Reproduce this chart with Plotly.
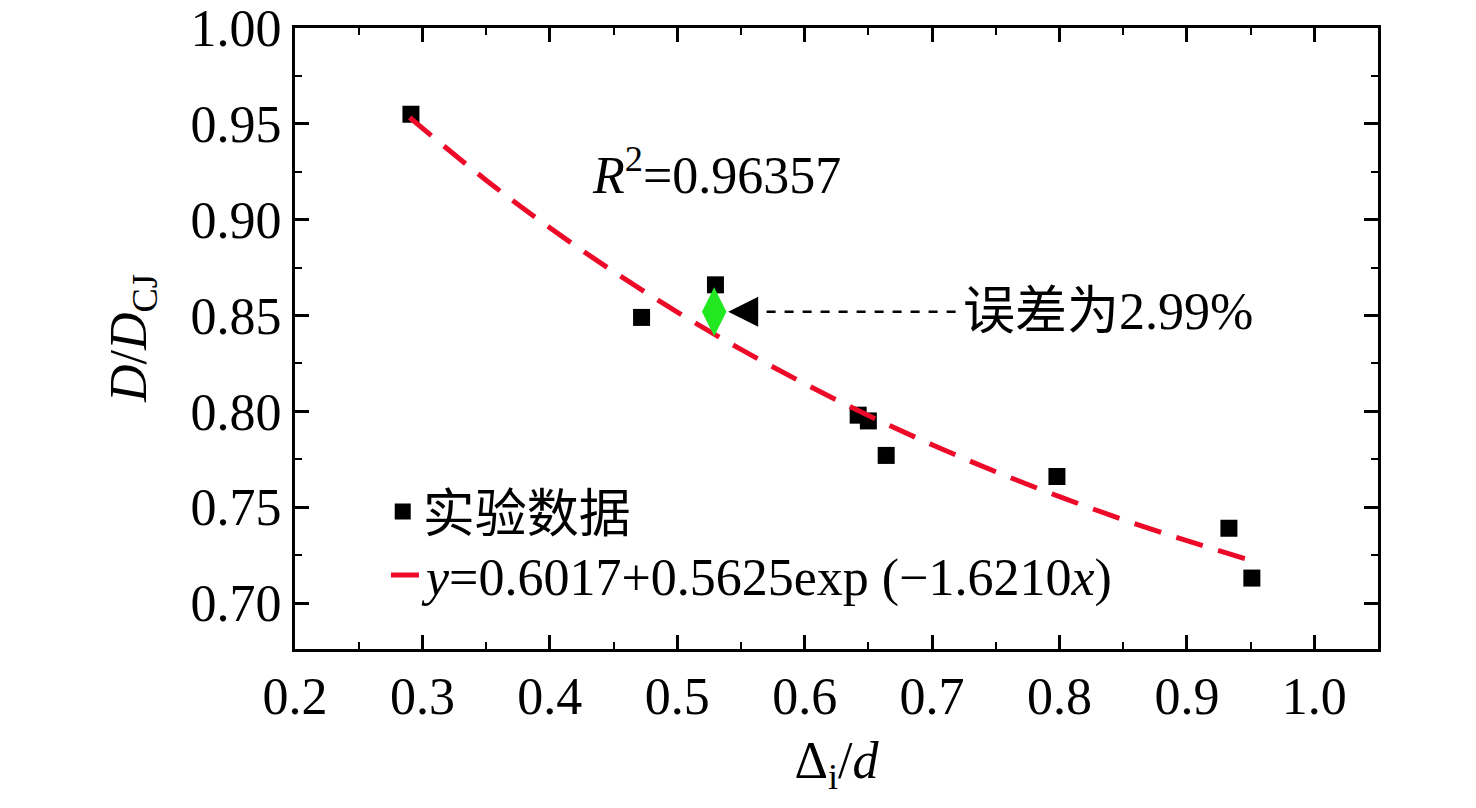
from plotly import graph_objects as go

exp_x = [0.291, 0.472, 0.530, 0.642, 0.650, 0.664, 0.798, 0.933, 0.951]
exp_y = [0.955, 0.849, 0.866, 0.798, 0.795, 0.777, 0.766, 0.739, 0.713]

# fitted curve
fit_x = [0.29, 0.35, 0.40, 0.45, 0.50, 0.55, 0.60, 0.65, 0.70, 0.75, 0.80, 0.85, 0.90, 0.95]
fit_y = [0.9533, 0.9206, 0.8958, 0.8729, 0.8518, 0.8323, 0.8144, 0.7978, 0.7826,
         0.7685, 0.7555, 0.7435, 0.7325, 0.7223]

# predicted point (green diamond)
pred_x = [0.529]
pred_y = [0.852]

# annotation positions
r2_pos = (0.531, 0.925)
err_text_x = 0.723
arrow_tip_x = 0.540
arrow_tail_x = 0.556

SERIF = "Liberation Serif, Times New Roman, Noto Sans CJK SC"
FS = 52

################################## TRACES ##################################
traces = list()
traces.append(go.Scatter(
    x=exp_x, y=exp_y, mode="markers", name="实验数据", legend="legend",
    marker=dict(symbol="square", size=17, color="black"),
))
traces.append(go.Scatter(
    x=fit_x, y=fit_y, mode="lines", legend="legend2",
    name="<i>y</i>=0.6017+0.5625exp (\u22121.6210<i>x</i>)",
    line=dict(color="#ec0a28", width=5, dash="28px,16px", shape="spline"),
))
traces.append(go.Scatter(
    x=pred_x, y=pred_y, mode="markers", showlegend=False,
    marker=dict(symbol="diamond-tall", size=35, color="#22e822", line=dict(width=0)),
))

################################## FIGURE ##################################
axis_common = dict(
    showline=True, linewidth=3, linecolor="black", mirror="ticks",
    ticks="inside", ticklen=14, tickwidth=2.5, tickcolor="black",
    showgrid=False, zeroline=False, ticklabeloverflow="allow",
    tickfont=dict(family=SERIF, size=FS, color="black"),
)
legend_common = dict(
    xanchor="left", yanchor="middle", bgcolor="rgba(0,0,0,0)",
    font=dict(family=SERIF, size=FS),
)

# page body adds an 8px margin, so the figure is a bit smaller than the window
figure = go.Figure(data=traces, layout=go.Layout(
    width=1460, height=792,
    paper_bgcolor="white", plot_bgcolor="white",
    margin=dict(l=287, r=90, t=20, b=151, autoexpand=False),
    font=dict(family=SERIF, size=FS, color="black"),
    xaxis=dict(
        range=[0.2, 1.05], dtick=0.1, tick0=0.2, tickformat=".1f",
        minor=dict(dtick=0.05, ticks="inside", ticklen=7, tickwidth=2, tickcolor="black"),
        title=dict(text="\u0394<sub>i</sub>/<i>d</i>", standoff=18,
                   font=dict(family=SERIF, size=FS)),
        **axis_common,
    ),
    yaxis=dict(
        range=[0.676, 1.0], dtick=0.05, tick0=0.7, tickformat=".2f",
        minor=dict(dtick=0.025, ticks="inside", ticklen=7, tickwidth=2, tickcolor="black"),
        **axis_common,
    ),
    legend=dict(x=0.081, y=0.221, **legend_common),
    legend2=dict(x=0.084, y=0.119, **legend_common),
    showlegend=True,
))

################################### OTHER ##################################
# y axis title
figure.add_annotation(
    x=-0.150, y=0.5, xref="paper", yref="paper", textangle=-90,
    xanchor="center", yanchor="middle",
    text="<i>D</i>/<i>D</i><sub>CJ</sub>", showarrow=False,
    font=dict(family=SERIF, size=FS),
)
figure.add_annotation(
    x=r2_pos[0], y=r2_pos[1], text="<i>R</i><sup>2</sup>=0.96357",
    showarrow=False, font=dict(family=SERIF, size=FS),
)
figure.add_annotation(
    x=err_text_x, y=pred_y[0], xanchor="left", showarrow=False,
    text="误差为<span style='font-family:Liberation Serif'>2.99%</span>",
    font=dict(family=SERIF, size=FS),
)
# dashed arrow body
figure.add_shape(
    type="line", x0=arrow_tail_x, x1=err_text_x - 0.004, y0=pred_y[0], y1=pred_y[0],
    line=dict(color="black", width=2.5, dash="dash"),
)
# arrow head
figure.add_annotation(
    x=arrow_tip_x, y=pred_y[0], ax=arrow_tail_x + 0.004, ay=pred_y[0],
    axref="x", ayref="y", text="", showarrow=True,
    arrowhead=2, arrowsize=2.0, arrowwidth=3, arrowcolor="black", standoff=0,
)

figure.write_html("out.html")
